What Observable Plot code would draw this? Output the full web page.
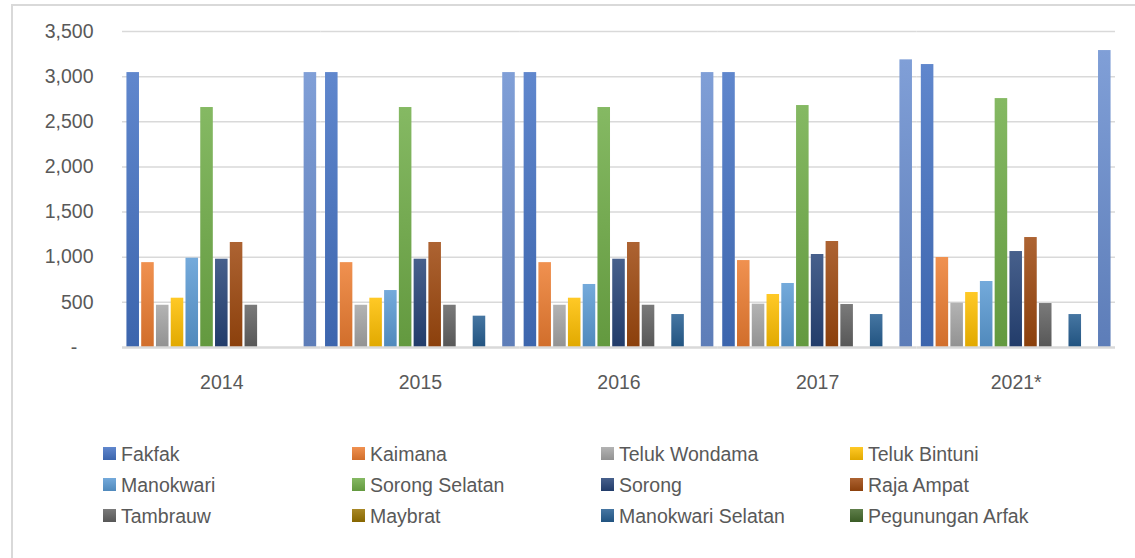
<!DOCTYPE html>
<html>
<head>
<meta charset="utf-8">
<script src="https://cdn.jsdelivr.net/npm/d3@7"></script>
<script src="https://cdn.jsdelivr.net/npm/@observablehq/plot@0.6"></script>
<style>
  body { margin: 0; background: #fff; font-family: "Liberation Sans", Arial, sans-serif; }
  #wrap { position: relative; width: 1135px; height: 558px; overflow: hidden; }
  #frame { position: absolute; left: 11px; top: 4px; width: 1140px; height: 600px;
           border-left: 2px solid #d9d9d9; border-top: 2px solid #d9d9d9; box-sizing: border-box; }
  #chart { position: absolute; left: 0; top: 0; }
  .lg { position: absolute; font-size: 19.5px; color: #595959; white-space: nowrap; line-height: 1; }
  .sw { position: absolute; width: 13px; height: 13px; }
</style>
</head>
<body>
<div id="wrap">
  <div id="frame"></div>
  <div id="chart"></div>
  <div id="legend"></div>
</div>
<script>
const years = ["2014", "2015", "2016", "2017", "2021*"];
const seriesNames = ["Fakfak", "Kaimana", "Teluk Wondama", "Teluk Bintuni", "Manokwari",
  "Sorong Selatan", "Sorong", "Raja Ampat", "Tambrauw", "Maybrat", "Manokwari Selatan",
  "Pegunungan Arfak", "Kota Sorong"];
const legendNames = seriesNames.slice(0, 12);
const colors = ["#4472C4", "#ED7D31", "#A5A5A5", "#FFC000", "#5B9BD5", "#70AD47",
  "#264478", "#9E480E", "#636363", "#997300", "#255E91", "#43682B", "#698ED0"];

const fakfak           = [3045, 3045, 3045, 3045, 3134];
const kaimana          = [940, 940, 940, 963, 997];
const telukWondama     = [468, 468, 468, 480, 491];
const telukBintuni     = [546, 546, 546, 587, 609];
const manokwari        = [989, 631, 698, 709, 731];
const sorongSelatan    = [2658, 2658, 2658, 2680, 2757];
const sorong           = [978, 978, 978, 1030, 1063];
const rajaAmpat        = [1163, 1163, 1163, 1174, 1218];
const tambrauw         = [468, 468, 468, 476, 487];
const maybrat          = [0, 0, 0, 0, 0];
const manokwariSelatan = [null, 347, 365, 365, 365];
const pegununganArfak  = [0, 0, 0, 0, 0];
const kotaSorong       = [3045, 3045, 3045, 3186, 3289];

const seriesValues = [fakfak, kaimana, telukWondama, telukBintuni, manokwari, sorongSelatan,
  sorong, rajaAmpat, tambrauw, maybrat, manokwariSelatan, pegununganArfak, kotaSorong];

const yTicks = [0, 500, 1000, 1500, 2000, 2500, 3000, 3500];

const data = [];
seriesNames.forEach((s, i) => {
  years.forEach((yr, j) => {
    const v = seriesValues[i][j];
    if (v != null) data.push({year: yr, series: s, value: v, fill: `url(#g${i})`});
  });
});

const fmt = d3.format(",");
const chart = Plot.plot({
  width: 1135,
  height: 420,
  marginLeft: 122,
  marginRight: 20,
  marginTop: 31,
  marginBottom: 73,
  style: {fontSize: "19.5px", fontFamily: "'Liberation Sans', Arial, sans-serif", color: "#595959", background: "transparent", overflow: "visible"},
  fx: {domain: years, padding: 0, round: false, label: null, tickSize: 0, tickPadding: 28, axis: "bottom"},
  x: {domain: seriesNames, axis: null, round: false, paddingInner: 0.15, paddingOuter: 0.3},
  y: {domain: [0, 3500], ticks: yTicks, tickSize: 0, tickPadding: 29, label: null,
      tickFormat: d => d === 0 ? "-\u00a0\u00a0\u00a0" : fmt(d)},
  color: {type: "identity"},
  marks: [
    Plot.gridY(yTicks.filter(d => d > 0), {stroke: "#d9d9d9", strokeOpacity: 1, strokeWidth: 1.5}),
    Plot.barY(data, {fx: "year", x: "series", y: "value", fill: "fill"}),
    Plot.ruleY([0], {stroke: "#d9d9d9", strokeWidth: 2.5})
  ]
});

// gradient definitions
const defs = d3.select(chart).insert("defs", ":first-child");
colors.forEach((c, i) => {
  const top = d3.interpolateRgb(c, "#ffffff")(0.15);
  const bot = d3.color(c).darker(0.35).formatHex();
  const g = defs.append("linearGradient").attr("id", `g${i}`)
    .attr("x1", 0).attr("y1", 0).attr("x2", 0).attr("y2", 1);
  g.append("stop").attr("offset", "0%").attr("stop-color", top);
  g.append("stop").attr("offset", "100%").attr("stop-color", bot);
});
document.getElementById("chart").appendChild(chart);

// legend
const legend = document.getElementById("legend");
legendNames.forEach((name, i) => {
  const col = i % 4, row = Math.floor(i / 4);
  const x = 103 + col * 249, y = 447 + row * 31;
  const c = colors[i];
  const sw = document.createElement("div");
  sw.className = "sw";
  sw.style.left = x + "px";
  sw.style.top = y + "px";
  sw.style.background = `linear-gradient(${d3.interpolateRgb(c, "#ffffff")(0.15)}, ${d3.color(c).darker(0.35).formatHex()})`;
  legend.appendChild(sw);
  const t = document.createElement("div");
  t.className = "lg";
  t.style.left = (x + 18) + "px";
  t.style.top = (y - 2) + "px";
  t.textContent = name;
  legend.appendChild(t);
});
</script>
</body>
</html>
